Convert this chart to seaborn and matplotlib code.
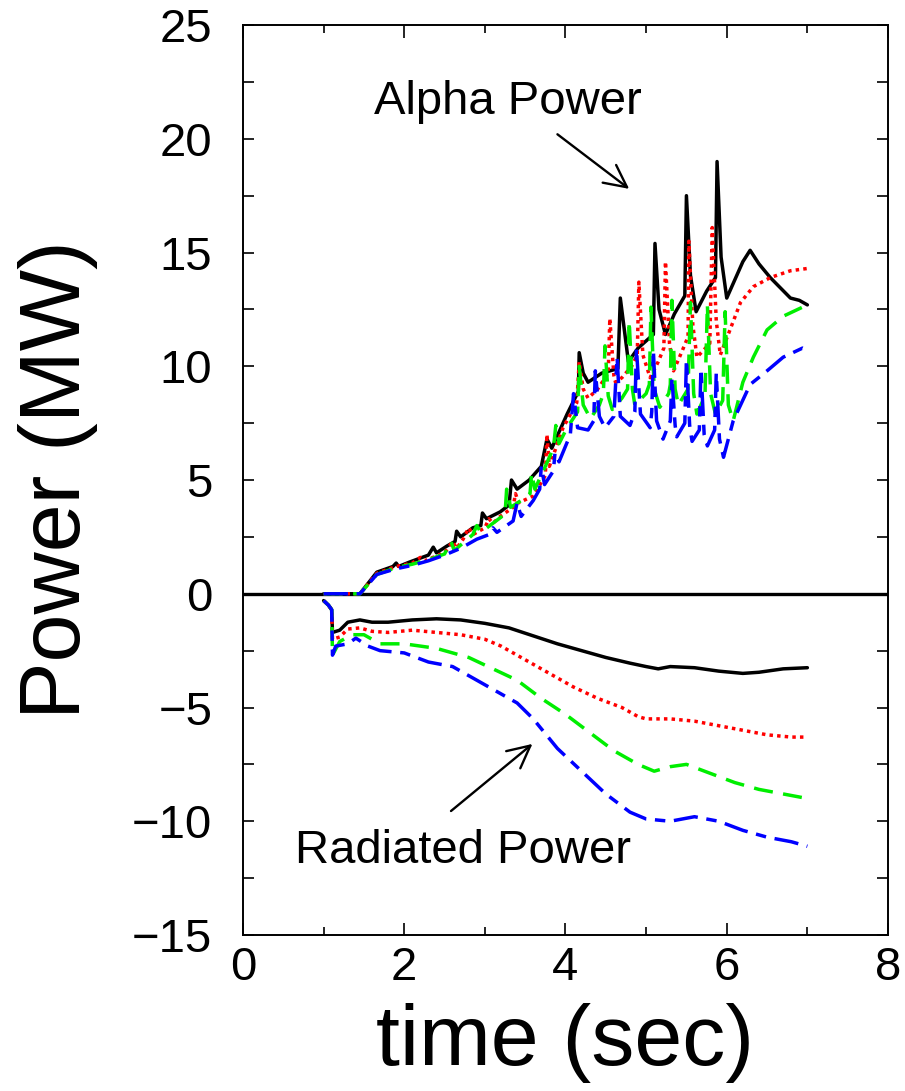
import numpy as np
import pandas as pd
import matplotlib
matplotlib.use('Agg')
import matplotlib.pyplot as plt
import seaborn as sns

# alpha power, four cases (MW)
t_alpha_1 = [1.0, 1.45, 1.66, 1.86, 1.9, 1.93, 2.07, 2.3, 2.36, 2.4, 2.53, 2.63, 2.65, 2.7,
             2.85, 2.95, 2.97, 3.02, 3.19, 3.3, 3.33, 3.4, 3.55, 3.7, 3.77, 3.83, 4.02, 4.16,
             4.17, 4.22, 4.28, 4.45, 4.65, 4.68, 4.78, 4.9, 5.09, 5.11, 5.16, 5.24, 5.35, 5.48,
             5.5, 5.55, 5.62, 5.75, 5.86, 5.88, 5.93, 6.0, 6.1, 6.2, 6.29, 6.4, 6.54, 6.79, 6.9, 7.0]
p_alpha_1 = [0, 0, 0.95, 1.2, 1.35, 1.2, 1.4, 1.7, 2.05, 1.8, 2.1, 2.3, 2.75, 2.5,
             2.9, 3.0, 3.55, 3.3, 3.6, 3.9, 5.0, 4.6, 5.0, 5.6, 6.8, 6.4, 7.9, 8.9,
             10.6, 9.7, 9.3, 9.7, 9.9, 13.0, 10.2, 10.8, 11.4, 15.4, 12.5, 11.4, 12.3, 13.1,
             17.5, 14.0, 12.4, 13.3, 13.9, 19.0, 14.8, 13.0, 13.8, 14.6, 15.1, 14.5, 13.9, 13.0, 12.9, 12.7]

t_alpha_2 = [1.0, 1.45, 1.66, 1.9, 2.1, 2.2, 2.25, 2.5, 2.6, 2.65, 2.73, 2.8, 2.85, 3.0, 3.05,
             3.1, 3.19, 3.35, 3.38, 3.42, 3.6, 3.75, 3.77, 3.8, 3.97, 4.14, 4.17, 4.22, 4.28,
             4.4, 4.53, 4.55, 4.6, 4.62, 4.7, 4.82, 4.89, 4.91, 4.96, 5.05, 5.15, 5.22, 5.24,
             5.29, 5.34, 5.45, 5.52, 5.53, 5.58, 5.63, 5.79, 5.82, 5.87, 5.92, 6.04, 6.17, 6.33,
             6.54, 6.79, 7.0]
p_alpha_2 = [0, 0, 0.9, 1.2, 1.35, 1.6, 1.45, 1.8, 2.3, 2.0, 2.4, 2.9, 2.6, 2.9, 3.3,
             3.1, 3.4, 3.8, 4.4, 4.0, 4.3, 5.2, 7.0, 5.6, 7.3, 8.4, 10.2, 9.0, 8.6,
             9.0, 9.7, 12.1, 9.6, 9.3, 9.5, 10.0, 10.5, 13.7, 10.5, 9.5, 10.2, 10.8, 14.6,
             11.0, 9.8, 10.7, 11.3, 15.5, 11.8, 10.4, 11.0, 16.1, 12.0, 10.5, 11.6, 12.8, 13.5,
             13.9, 14.2, 14.3]

t_alpha_3 = [1.0, 1.45, 1.66, 1.9, 2.1, 2.3, 2.5, 2.58, 2.62, 2.85, 2.9, 2.95, 3.1, 3.25, 3.27,
             3.32, 3.45, 3.56, 3.58, 3.62, 3.75, 3.85, 3.88, 3.92, 4.02, 4.15, 4.17, 4.22, 4.31,
             4.42, 4.47, 4.49, 4.53, 4.58, 4.7, 4.77, 4.79, 4.83, 4.86, 5.0, 5.04, 5.06, 5.1,
             5.17, 5.28, 5.3, 5.32, 5.36, 5.4, 5.52, 5.55, 5.59, 5.63, 5.73, 5.76, 5.8, 5.86,
             5.95, 5.98, 6.02, 6.08, 6.2, 6.33, 6.5, 6.7, 7.0]
p_alpha_3 = [0, 0, 0.85, 1.15, 1.3, 1.5, 1.75, 2.3, 1.9, 2.6, 3.0, 2.7, 3.1, 3.5, 4.6,
             3.8, 4.1, 4.4, 5.3, 4.6, 5.6, 6.4, 7.4, 6.6, 7.3, 8.0, 10.0, 8.3, 7.7,
             8.3, 8.8, 10.9, 8.7, 8.1, 8.6, 9.0, 12.0, 9.0, 8.3, 8.8, 9.2, 12.6, 9.0,
             8.2, 8.8, 9.2, 12.9, 9.0, 8.3, 9.0, 12.8, 8.8, 7.9, 8.7, 12.7, 8.8, 7.9,
             8.5, 12.4, 8.3, 7.6, 9.3, 10.4, 11.6, 12.2, 12.7]

t_alpha_4 = [1.0, 1.45, 1.66, 1.9, 2.1, 2.3, 2.5, 2.7, 2.9, 3.05, 3.1, 3.15, 3.35, 3.4, 3.45,
             3.6, 3.68, 3.7, 3.74, 3.85, 3.87, 3.92, 4.06, 4.1, 4.15, 4.28, 4.35, 4.37, 4.42,
             4.49, 4.6, 4.64, 4.68, 4.8, 4.86, 4.88, 4.93, 5.05, 5.07, 5.09, 5.13, 5.21, 5.3,
             5.32, 5.36, 5.38, 5.48, 5.5, 5.54, 5.57, 5.66, 5.68, 5.72, 5.76, 5.85, 5.87, 5.91,
             5.96, 6.08, 6.29, 6.5, 6.7, 6.94, 7.0]
p_alpha_4 = [0, 0, 0.85, 1.1, 1.25, 1.45, 1.7, 2.0, 2.4, 2.6, 2.9, 2.7, 3.2, 4.0, 3.4,
             4.1, 4.6, 5.6, 4.8, 5.4, 6.2, 5.8, 7.0, 8.8, 7.3, 7.2, 7.6, 9.8, 7.8,
             7.3, 7.8, 10.4, 7.8, 7.4, 8.0, 10.8, 7.9, 7.3, 8.0, 10.7, 7.6, 6.8, 7.6,
             9.5, 7.4, 6.9, 7.5, 10.3, 7.4, 6.7, 7.2, 9.9, 7.0, 6.5, 7.2, 9.7, 6.8,
             6.0, 7.6, 9.2, 9.8, 10.4, 10.8, 10.7]

# radiated power, four cases (MW)
t_rad_1 = [1.0, 1.06, 1.1, 1.11, 1.2, 1.3, 1.45, 1.6, 1.8, 2.1, 2.4, 2.7, 3.0, 3.3, 3.6,
           3.9, 4.2, 4.5, 4.8, 5.0, 5.15, 5.3, 5.6, 5.9, 6.2, 6.4, 6.7, 7.0]
p_rad_1 = [-0.3, -0.5, -0.7, -1.7, -1.6, -1.25, -1.15, -1.25, -1.25, -1.15, -1.1, -1.15,
           -1.3, -1.5, -1.85, -2.2, -2.5, -2.8, -3.05, -3.2, -3.3, -3.2, -3.25, -3.4, -3.5,
           -3.45, -3.3, -3.25]

t_rad_2 = [1.0, 1.06, 1.1, 1.11, 1.2, 1.3, 1.45, 1.6, 1.8, 2.1, 2.4, 2.7, 3.0, 3.2, 3.5,
           3.8, 4.1, 4.4, 4.7, 4.9, 5.0, 5.3, 5.6, 5.9, 6.2, 6.5, 6.8, 7.0]
p_rad_2 = [-0.3, -0.5, -0.7, -2.0, -1.9, -1.55, -1.5, -1.65, -1.7, -1.6, -1.7, -1.8,
           -2.0, -2.3, -2.9, -3.5, -4.1, -4.6, -5.0, -5.4, -5.5, -5.5, -5.6, -5.8, -6.0,
           -6.2, -6.3, -6.3]

t_rad_3 = [1.0, 1.06, 1.1, 1.11, 1.2, 1.35, 1.5, 1.7, 2.0, 2.4, 2.8, 3.1, 3.4, 3.7, 4.0,
           4.3, 4.6, 4.9, 5.1, 5.3, 5.5, 5.8, 6.1, 6.4, 6.7, 7.0]
p_rad_3 = [-0.3, -0.5, -0.7, -2.7, -2.1, -1.8, -1.8, -2.2, -2.2, -2.4, -2.8, -3.3, -3.8,
           -4.6, -5.3, -6.1, -6.9, -7.5, -7.8, -7.6, -7.5, -7.9, -8.3, -8.6, -8.8, -9.0]

t_rad_4 = [1.0, 1.06, 1.1, 1.11, 1.15, 1.3, 1.4, 1.55, 1.7, 2.0, 2.3, 2.6, 2.9, 3.2, 3.4,
           3.6, 3.9, 4.2, 4.5, 4.8, 5.0, 5.3, 5.6, 5.9, 6.2, 6.5, 6.8, 7.0]
p_rad_4 = [-0.3, -0.5, -0.7, -2.7, -2.3, -2.2, -1.95, -2.3, -2.5, -2.6, -3.0, -3.2, -3.8,
           -4.4, -4.8, -5.5, -6.8, -7.8, -8.8, -9.6, -9.9, -10.0, -9.8, -10.0, -10.4, -10.7,
           -10.9, -11.1]

cases = ['1', '2', '3', '4']
colors = {'1': 'black', '2': 'red', '3': '#00ee00', '4': 'blue'}
dashes = {'1': '', '2': (1.0, 1.2), '3': (5.5, 3.0), '4': (7.0, 2.5, 3.0, 2.5)}

frames = []
for c, ta, pa, tr, pr in zip(cases,
                             [t_alpha_1, t_alpha_2, t_alpha_3, t_alpha_4],
                             [p_alpha_1, p_alpha_2, p_alpha_3, p_alpha_4],
                             [t_rad_1, t_rad_2, t_rad_3, t_rad_4],
                             [p_rad_1, p_rad_2, p_rad_3, p_rad_4]):
    frames.append(pd.DataFrame({'time': ta, 'power': pa, 'case': c, 'kind': 'alpha'}))
    frames.append(pd.DataFrame({'time': tr, 'power': pr, 'case': c, 'kind': 'rad'}))
df = pd.concat(frames, ignore_index=True)

sns.set_style('ticks')
plt.rcParams['font.family'] = ['Liberation Sans', 'DejaVu Sans']
plt.rcParams['text.color'] = 'black'
plt.rcParams['axes.labelcolor'] = 'black'
plt.rcParams['xtick.color'] = 'black'
plt.rcParams['ytick.color'] = 'black'
plt.rcParams['axes.edgecolor'] = 'black'

fig = plt.figure(figsize=(9.05, 10.91), dpi=100)
ax = fig.add_axes([0.2685, 0.143, 0.7127, 0.834])

ax.axhline(0, color='black', lw=2.4, zorder=1)
sns.lineplot(data=df, x='time', y='power', hue='case', style='case', units='kind',
             estimator=None, sort=False, palette=colors, dashes=dashes, lw=2.5,
             legend=False, ax=ax, zorder=2)

ax.set_xlim(0, 8)
ax.set_ylim(-15, 25)
ax.set_xticks([0, 2, 4, 6, 8])
ax.set_xticks([1, 3, 5, 7], minor=True)
ax.set_yticks([-15, -10, -5, 0, 5, 10, 15, 20, 25])
ax.set_yticklabels(['\u221215', '\u221210', '\u22125', '0', '5', '10', '15', '20', '25'])
ax.set_yticks(np.arange(-12.5, 25, 5), minor=True)
ax.tick_params(which='both', direction='in', top=True, right=True, width=1.2, labelsize=34)
ax.tick_params(axis='x', which='major', length=9, pad=8)
ax.tick_params(axis='x', which='minor', length=5.5)
ax.tick_params(axis='y', which='both', length=8, pad=22)
for s in ax.spines.values():
    s.set_linewidth(1.4)

ax.set_xlabel('time (sec)', fontsize=62)
ax.set_ylabel('Power (MW)', fontsize=62)
ax.xaxis.set_label_coords(0.5, -0.075)
ax.yaxis.set_label_coords(-0.225, 0.5)

ax.text(1.63, 21.6, 'Alpha Power', fontsize=34, va='center', ha='left')
ax.text(0.65, -11.3, 'Radiated Power', fontsize=34, va='center', ha='left')
arrow = dict(arrowstyle='->', lw=1.7, color='black', mutation_scale=40, shrinkA=0, shrinkB=0)
ax.annotate('', xy=(4.79, 17.8), xytext=(3.90, 20.2), arrowprops=arrow)
ax.annotate('', xy=(3.59, -6.6), xytext=(2.58, -9.55), arrowprops=arrow)

fig.savefig('out.png', dpi=100)
